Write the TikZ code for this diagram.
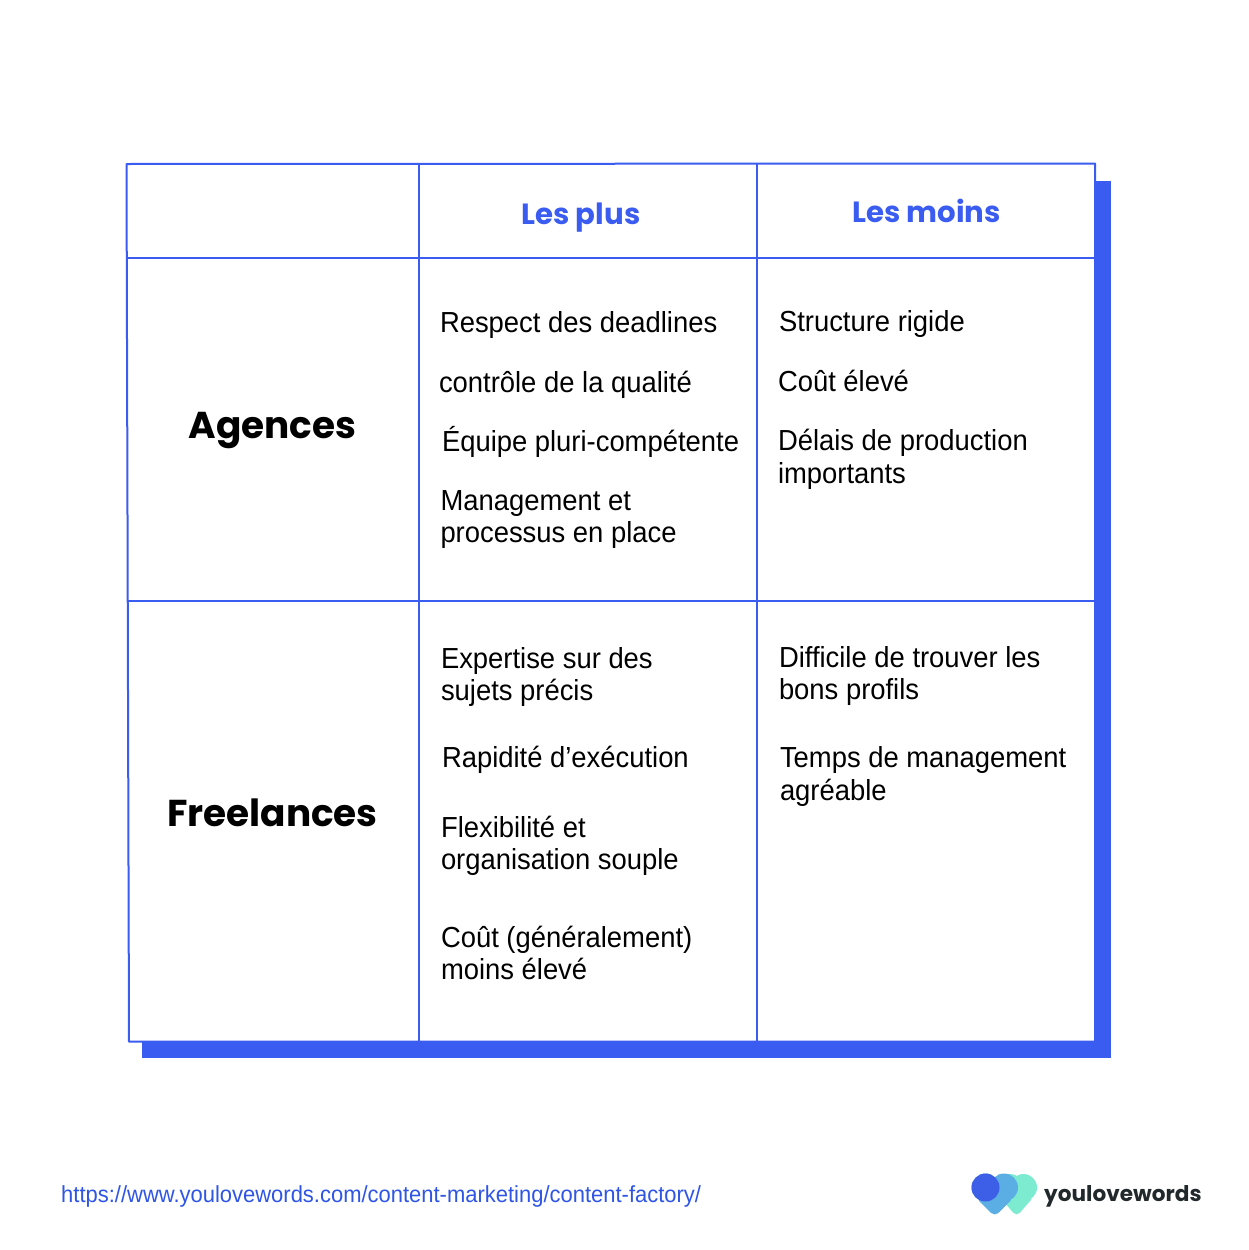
\documentclass[tikz,border=0pt]{standalone}
\usepackage{fontspec}
\setmainfont[FakeStretch=0.945]{Liberation Sans}
\newfontfamily\pop[BoldFont={Poppins Bold}]{Poppins}
\definecolor{tblue}{HTML}{3B5CF0}
\definecolor{linkblue}{HTML}{2F55E6}
\definecolor{logodark}{HTML}{3D5FE8}
\definecolor{logomid}{HTML}{5BAEE3}
\definecolor{logolight}{HTML}{7DEBD0}
\definecolor{logotext}{HTML}{22292C}
\tikzset{
  x=1pt,y=-1pt,
  gridline/.style={draw=tblue,line width=2pt,line cap=round,line join=round},
  body/.style={anchor=base west,inner sep=0pt,outer sep=0pt,align=left,text=black,font=\fontsize{29}{32.3}\selectfont},
  head/.style={anchor=base,inner sep=0pt,text=tblue,font=\pop\bfseries\fontsize{29.2}{32}\selectfont},
  rowhead/.style={anchor=base,inner sep=0pt,text=black,font=\pop\bfseries\fontsize{37.4}{40}\selectfont},
}
\begin{document}
\begin{tikzpicture}
\useasboundingbox (0,0) rectangle (1249,1250);
\fill[white] (0,0) rectangle (1249,1250);
% shadow
\fill[tblue] (141.7,181) rectangle (1111.2,1058.2);
% table
\fill[white] (126.5,164) -- (1095,163.5) -- (1095,1041.7) -- (129,1041.7) -- cycle;
\draw[gridline] (126.5,164) -- (1095,163.5) -- (1095,1041.7) -- (129,1041.7) -- cycle;
\draw[gridline] (418.6,164) -- (418.6,1041.7);
\draw[gridline] (757,164) -- (757,1041.7);
\draw[gridline] (127,257.6) -- (1095,257.6);
\draw[gridline] (128,600.6) -- (1095,600.6);
% headers
\node[head] (plus) at (581,224) {Les plus};
\node[head] (moins) at (926.5,222) {Les moins};
\node[rowhead] (ag) at (272.5,438) {Agences};
\node[rowhead] (fr) at (272.5,826) {Freelances};
% col 1
\node[body] (a1) at (440,332) {Respect des deadlines};
\node[body] (a2) at (439,392) {contrôle de la qualité};
\node[body] (a3) at (442,451) {Équipe pluri-compétente};
\node[body] (a4) at (440.5,510) {Management et};
\node[body] (a4b) at (440.5,542.5) {processus en place};
\node[body] (b1) at (441,668) {Expertise sur des};
\node[body] (b1b) at (441,700) {sujets précis};
\node[body] (b2) at (442,767) {Rapidité d’exécution};
\node[body] (b3) at (441,837) {Flexibilité et};
\node[body] (b3b) at (441,869) {organisation souple};
\node[body] (b4) at (441,947) {Coût (généralement)};
\node[body] (b4b) at (441,979) {moins élevé};
% col 2
\node[body] (c1) at (779,331) {Structure rigide};
\node[body] (c2) at (778,391) {Coût élevé};
\node[body] (c3) at (778,450) {Délais de production};
\node[body] (c3b) at (778,483) {importants};
\node[body] (d1) at (779,667) {Difficile de trouver les};
\node[body] (d1b) at (779,699) {bons profils};
\node[body] (d2) at (780,767) {Temps de management};
\node[body] (d2b) at (780,800) {agréable};
% footer
\node[anchor=base west,inner sep=0pt,text=linkblue,font=\fontsize{23.25}{26}\selectfont] (url) at (61,1202) {https://www.youlovewords.com/content-marketing/content-factory/};
% logo
\fill[logolight] (1023.5,1187.5) circle (13.5);
\fill[logolight] (1010,1187.5) circle (13.5);
\fill[logolight,rounded corners=5pt] (998,1195) -- (1016.5,1216.5) -- (1034,1196.5) -- (1020,1178) -- cycle;
\fill[logomid] (985.5,1187.5) circle (14);
\fill[logomid] (1004,1187.5) circle (14);
\fill[logomid,rounded corners=5pt] (975.6,1197.4) -- (994.75,1216.5) -- (1013.9,1197.4) -- (995,1180) -- cycle;
\fill[logodark] (985.5,1187.5) circle (14);
\node[anchor=base west,inner sep=0pt,text=logotext,font=\pop\bfseries\fontsize{21.6}{26}\selectfont] (logo) at (1044,1201) {youlovewords};
\end{tikzpicture}
\end{document}
